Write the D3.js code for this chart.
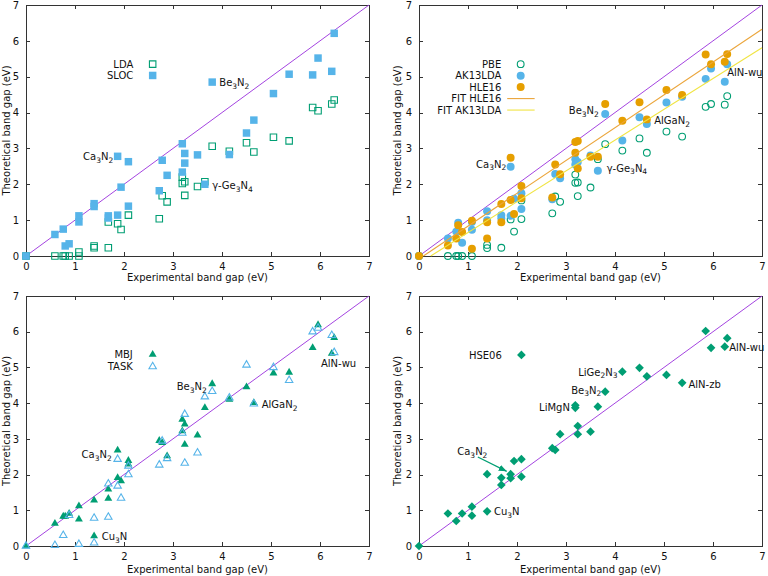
<!DOCTYPE html>
<html><head><meta charset="utf-8">
<script src="https://cdn.jsdelivr.net/npm/d3@7"></script>
<style>
body{margin:0;background:#fff}
svg{display:block}
text{font-family:"DejaVu Sans",sans-serif}
</style>
</head><body>
<svg id="c" width="768" height="576"></svg>
<script>
// ---------- data ----------
const tickLabels = [0, 1, 2, 3, 4, 5, 6, 7];
const xTitle = "Experimental band gap (eV)";
const yTitle = "Theoretical band gap (eV)";

const expGap = [0, 0.59, 0.76, 0.80, 0.88, 1.08, 1.08, 1.39, 1.39, 1.68, 1.68, 1.87, 1.87, 1.94, 2.09, 2.09,
  2.72, 2.78, 2.88, 3.19, 3.19, 3.24, 3.24, 3.50, 3.65, 3.80, 4.15, 4.50, 4.65, 5.05, 5.37, 5.85, 5.96, 6.24, 6.29];

const lda  = [0, 0, 0, 0, 0, 0.11, 0, 0.28, 0.23, 0.23, 0.95, 0.90, null, 0.74, 1.14, null,
  1.04, 1.68, 1.51, 2.02, 2.20, 2.07, 1.69, 1.94, 2.07, 3.06, 2.92, 3.16, 2.90, 3.31, 3.21, 4.14, 4.05, 4.24, 4.35];
const sloc = [0, 0.60, 0.75, 0.28, 0.34, 1.12, 0.95, 1.46, 1.38, 1.12, 1.06, 2.78, 1.14, 1.92, 2.63, 1.39,
  1.82, 2.67, 2.25, 3.13, 2.34, 2.86, 2.59, 2.82, 2.00, 4.85, 2.83, 3.43, 3.79, 4.53, 5.07, 5.05, 5.52, 5.15, 6.21];

const pbe  = [0, 0, 0, 0, 0, 0, null, 0.31, 0.22, 0.23, null, 1.02, null, 0.68, 1.03, 1.55,
  1.19, 1.66, 1.51, 2.27, 2.04, 2.05, 1.67, 1.91, 2.70, 3.12, 2.94, 3.28, 2.88, 3.47, 3.33, 4.16, 4.24, 4.22, 4.46];
const ak13lda = [0, 0.49, 0.68, 0.93, 0.37, 0.73, 0.95, 1.25, 1.00, 1.14, 1.05, 2.49, 1.12, 1.60, 1.75, 1.31,
  1.58, 2.29, 2.17, 2.70, 2.55, 2.62, null, 2.80, 2.38, 3.96, 3.22, 3.87, 3.68, 4.28, 4.44, 4.94, 5.23, 4.86, 5.35];
const hle16 = [0, 0.29, 0.49, 0.86, 0.67, 0.98, 0.20, 0.94, 0.49, 1.45, 0.94, 2.74, 1.56, 1.17, 1.95, 1.61,
  1.63, 2.55, 2.28, 3.18, 2.88, 3.21, 2.44, 2.77, 2.77, 4.24, 3.77, 4.29, 3.81, 4.63, 4.49, 5.62, 5.35, 5.42, 5.63];
const fitHLE16 = [-0.082, 0.915];   // intercept, slope
const fitAK13LDA = [-0.206, 0.859];

const mbj  = [0, 0.63, 0.83, 0.83, 0.91, 1.12, 0.75, 1.28, 0.28, 1.59, 1.33, 2.68, 1.91, 1.82, 2.39, 2.29,
  2.95, 2.89, 2.52, 3.54, 3.22, 3.41, 2.84, 3.10, 3.87, 4.54, 4.10, 4.45, 4.01, 4.84, 4.86, 5.55, 6.19, 5.39, 5.83];
const task = [0, 0.02, 0.30, null, 0.86, 0.05, null, 0.78, 0.09, 1.74, 0.81, 2.43, 1.68, 1.34, 2.00, 2.24,
  2.27, 2.94, 2.45, 3.16, null, 3.69, 2.32, 2.61, 4.18, 4.33, 4.15, 5.07, 3.98, 5.00, 4.64, 6.00, 6.10, 5.90, 5.42];

const hse06 = [0, 0.91, 0.70, null, 0.91, 1.10, 0.85, 2.01, 0.97, 1.91, 1.71, 2.01, 1.90, 2.38, 2.43, 1.94,
  2.74, 2.69, 3.13, 3.87, 3.94, 3.36, 3.13, 3.20, 3.90, 4.32, 4.88, 4.99, 4.75, 4.79, 4.57, 6.02, 5.55, 5.58, 5.82];

// ---------- styles ----------
const GREEN = "#009e73", BLUE = "#56b4e9", ORANGE = "#e69f00", YELLOW = "#f0e442", PURPLE = "#a444e0";
const FITORANGE = "#eba53a";

const panels = [
  { left: 26, top: 5, right: 369, bottom: 256, yTitleX: 6, xTitleY: 277.5,
    series: [
      { name: "LDA", v: lda, shape: "square", fill: false, color: GREEN },
      { name: "SLOC", v: sloc, shape: "square", fill: true, color: BLUE }
    ],
    fits: [],
    legend: { textX: 2.19, keyX: 2.585, y: 5.35, dy: 0.315 },
    labels: [
      { t: "Be_3N_2", x: 3.945, y: 4.83, a: "start" },
      { t: "Ca_3N_2", x: 1.78, y: 2.78, a: "end" },
      { t: "γ-Ge_3N_4", x: 3.80, y: 1.97, a: "start" }
    ] },
  { left: 419, top: 5, right: 762, bottom: 256, yTitleX: 397, xTitleY: 277.5,
    series: [
      { name: "PBE", v: pbe, shape: "circle", fill: false, color: GREEN },
      { name: "AK13LDA", v: ak13lda, shape: "circle", fill: true, color: BLUE },
      { name: "HLE16", v: hle16, shape: "circle", fill: true, color: ORANGE }
    ],
    fits: [
      { name: "FIT HLE16", c: fitHLE16, color: FITORANGE },
      { name: "FIT AK13LDA", c: fitAK13LDA, color: YELLOW }
    ],
    legend: { textX: 1.68, keyX: 2.075, y: 5.35, dy: 0.32, lineX0: 1.80, lineX1: 2.36 },
    labels: [
      { t: "Be_3N_2", x: 3.67, y: 4.05, a: "end" },
      { t: "AlGaN_2", x: 4.80, y: 3.77, a: "start" },
      { t: "AlN-wu", x: 6.29, y: 5.11, a: "start" },
      { t: "Ca_3N_2", x: 1.78, y: 2.56, a: "end" },
      { t: "γ-Ge_3N_4", x: 3.83, y: 2.45, a: "start" }
    ] },
  { left: 26, top: 296, right: 369, bottom: 546, yTitleX: 6, xTitleY: 569.7,
    series: [
      { name: "MBJ", v: mbj, shape: "triangle", fill: true, color: GREEN },
      { name: "TASK", v: task, shape: "triangle", fill: false, color: BLUE }
    ],
    fits: [],
    legend: { textX: 2.18, keyX: 2.585, y: 5.36, dy: 0.335 },
    labels: [
      { t: "Be_3N_2", x: 3.69, y: 4.46, a: "end" },
      { t: "AlGaN_2", x: 4.81, y: 3.96, a: "start" },
      { t: "AlN-wu", x: 6.02, y: 5.10, a: "start" },
      { t: "Ca_3N_2", x: 1.75, y: 2.56, a: "end" },
      { t: "Cu_3N", x: 1.545, y: 0.27, a: "start" }
    ] },
  { left: 419, top: 296, right: 762, bottom: 546, yTitleX: 397, xTitleY: 569.7,
    series: [
      { name: "HSE06", v: hse06, shape: "diamond", fill: true, color: GREEN }
    ],
    fits: [],
    legend: { textX: 1.69, keyX: 2.09, y: 5.35, dy: 0.33 },
    labels: [
      { t: "LiGe_2N_3", x: 4.05, y: 4.87, a: "end" },
      { t: "Be_3N_2", x: 3.72, y: 4.36, a: "end" },
      { t: "LiMgN", x: 3.08, y: 3.89, a: "end" },
      { t: "AlN-zb", x: 5.50, y: 4.52, a: "start" },
      { t: "AlN-wu", x: 6.33, y: 5.57, a: "start" },
      { t: "Cu_3N", x: 1.53, y: 0.96, a: "start" },
      { t: "Ca_3N_2", x: 0.78, y: 2.65, a: "start" }
    ],
    arrow: { x0: 1.20, y0: 2.49, x1: 1.79, y1: 2.09 } }
];

// ---------- drawing ----------
const svg = d3.select("#c");
const defs = svg.append("defs");
defs.append("marker").attr("id", "arr").attr("viewBox", "0 0 10 10")
  .attr("refX", 10).attr("refY", 5).attr("markerWidth", 8).attr("markerHeight", 8)
  .attr("markerUnits", "userSpaceOnUse").attr("orient", "auto")
  .append("path").attr("d", "M0,1 L10,5 L0,9 z").attr("fill", GREEN);

function symPath(shape, fill) {
  if (shape === "square") return d3.symbol(d3.symbolSquare, fill ? 56 : 42)();
  if (shape === "circle") return d3.symbol(d3.symbolCircle, fill ? 50 : 36)();
  if (shape === "triangle") return d3.symbol(d3.symbolTriangle, fill ? 27 : 24)();
  if (shape === "diamond") return d3.symbol(d3.symbolSquare, 38)();
}
function drawSym(g, s, px, py) {
  const p = g.append("path").attr("d", symPath(s.shape, s.fill))
    .attr("transform", `translate(${px},${py})` + (s.shape === "diamond" ? " rotate(45)" : ""));
  if (s.fill) p.attr("fill", s.color).attr("stroke", "none");
  else p.attr("fill", "none").attr("stroke", s.color).attr("stroke-width", 1.1);
}
function richText(g, str, x, cy, anchor) {
  const t = g.append("text").attr("x", x).attr("y", cy + 3.6).attr("text-anchor", anchor)
    .attr("font-size", 10).attr("fill", "#111");
  const parts = str.split(/(_\d)/).filter(s => s.length);
  let shifted = false;
  parts.forEach(part => {
    if (part[0] === "_") {
      t.append("tspan").attr("font-size", 7.5).attr("dy", shifted ? 0 : 2.6).text(part.slice(1));
      shifted = true;
    } else {
      t.append("tspan").attr("dy", shifted ? -2.6 : 0).text(part);
      shifted = false;
    }
  });
  return t;
}

panels.forEach(p => {
  const x = d3.scaleLinear().domain([0, 7]).range([p.left, p.right]);
  const y = d3.scaleLinear().domain([0, 7]).range([p.bottom, p.top]);
  const g = svg.append("g");

  // axes (ticks inward, mirrored)
  const styleAxis = a => {
    a.select(".domain").remove();
    a.selectAll(".tick line").attr("stroke", "#333").attr("shape-rendering", "crispEdges");
    a.selectAll("text").attr("font-size", 10).attr("font-family", "DejaVu Sans, sans-serif").attr("fill", "#111");
  };
  g.append("g").attr("transform", `translate(0,${p.bottom})`)
    .call(d3.axisBottom(x).tickValues(tickLabels).tickSizeInner(-4).tickSizeOuter(0).tickPadding(7).tickFormat(d3.format("d")))
    .call(styleAxis);
  g.append("g").attr("transform", `translate(0,${p.top})`)
    .call(d3.axisTop(x).tickValues(tickLabels).tickSizeInner(-4).tickSizeOuter(0).tickFormat(""))
    .call(styleAxis);
  g.append("g").attr("transform", `translate(${p.left},0)`)
    .call(d3.axisLeft(y).tickValues(tickLabels).tickSizeInner(-4).tickSizeOuter(0).tickPadding(7).tickFormat(d3.format("d")))
    .call(styleAxis);
  g.append("g").attr("transform", `translate(${p.right},0)`)
    .call(d3.axisRight(y).tickValues(tickLabels).tickSizeInner(-4).tickSizeOuter(0).tickFormat(""))
    .call(styleAxis);
  g.append("rect").attr("x", p.left).attr("y", p.top)
    .attr("width", p.right - p.left).attr("height", p.bottom - p.top)
    .attr("fill", "none").attr("stroke", "#333").attr("shape-rendering", "crispEdges");

  // axis titles
  g.append("text").attr("x", (p.left + p.right) / 2).attr("y", p.xTitleY + 3.6)
    .attr("text-anchor", "middle").attr("font-size", 10).attr("fill", "#111").text(xTitle);
  g.append("text").attr("transform", `translate(${p.yTitleX + 3.6},${(p.top + p.bottom) / 2}) rotate(-90)`)
    .attr("text-anchor", "middle").attr("font-size", 10).attr("fill", "#111").text(yTitle);

  // diagonal y = x
  g.append("line").attr("x1", x(0)).attr("y1", y(0)).attr("x2", x(7)).attr("y2", y(7))
    .attr("stroke", PURPLE).attr("stroke-width", 1);

  // points
  p.series.forEach(s => {
    const sg = g.append("g");
    expGap.forEach((e, i) => {
      if (s.v[i] == null) return;
      drawSym(sg, s, x(e), y(s.v[i]));
    });
  });

  // fit lines
  p.fits.forEach(f => {
    const x0 = -f.c[0] / f.c[1];
    g.append("line").attr("x1", x(x0)).attr("y1", y(0)).attr("x2", x(7)).attr("y2", y(f.c[0] + f.c[1] * 7))
      .attr("stroke", f.color).attr("stroke-width", 1.1);
  });

  // legend
  const L = p.legend;
  let row = 0;
  p.series.forEach(s => {
    const cy = y(L.y - row * L.dy);
    richText(g, s.name, x(L.textX), cy, "end");
    drawSym(g, s, x(L.keyX), cy);
    row++;
  });
  p.fits.forEach(f => {
    const cy = y(L.y - row * L.dy);
    richText(g, f.name, x(L.textX), cy, "end");
    g.append("line").attr("x1", x(L.lineX0)).attr("x2", x(L.lineX1)).attr("y1", cy).attr("y2", cy)
      .attr("stroke", f.color).attr("stroke-width", 1.1);
    row++;
  });

  // annotations
  p.labels.forEach(l => richText(g, l.t, x(l.x), y(l.y), l.a));
  if (p.arrow) {
    g.append("line").attr("x1", x(p.arrow.x0)).attr("y1", y(p.arrow.y0))
      .attr("x2", x(p.arrow.x1)).attr("y2", y(p.arrow.y1))
      .attr("stroke", GREEN).attr("stroke-width", 1.2).attr("marker-end", "url(#arr)");
  }
});
</script>
</body></html>
